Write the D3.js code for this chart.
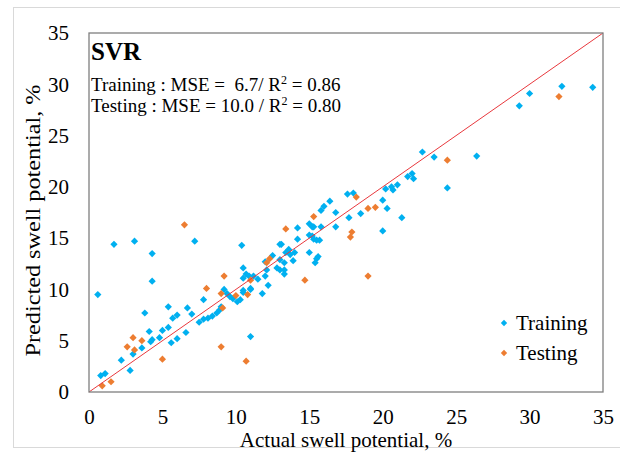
<!DOCTYPE html>
<html>
<head>
<meta charset="utf-8">
<script src="https://cdn.jsdelivr.net/npm/d3@7"></script>
<style>
    body { margin: 0; background: #fff; }
    text { font-family: "Liberation Serif", "Times New Roman", serif; fill: #000; }
</style>
</head>
<body>
<div id="chart"></div>
<script>
(function () {

    // actual swell potential, predicted swell potential (%)
    const TRAINING = [
        [1.7, 14.4], [3.1, 14.7], [4.3, 13.5], [4.3, 10.8], [0.6, 9.5], [7.2, 14.7], [10.4, 14.3],
        [3.8, 7.7], [5.4, 8.3], [6.7, 8.2], [5.7, 7.2], [6.0, 7.5], [7.0, 7.6],
        [4.1, 5.9], [5.0, 6.0], [5.4, 6.3], [4.8, 5.3], [4.2, 4.9], [4.3, 5.1], [3.6, 4.3],
        [5.6, 4.8], [6.0, 5.2], [6.6, 5.8], [3.0, 3.7], [2.2, 3.1], [2.8, 2.1], [0.8, 1.6], [1.1, 1.8],
        [7.8, 9.0], [7.5, 6.8], [7.8, 7.1], [8.1, 7.2], [8.4, 7.4], [8.7, 7.7], [8.9, 8.0], [9.0, 8.3],
        [9.2, 10.0], [9.4, 9.6], [9.6, 9.3], [9.8, 9.1], [10.1, 8.8], [10.3, 9.0], [10.5, 9.7],
        [10.5, 9.9], [11.0, 10.0], [11.0, 10.1], [10.5, 12.1], [10.7, 11.5], [10.5, 11.1], [10.9, 11.3],
        [11.2, 11.3], [11.5, 11.0], [11.8, 9.6], [12.0, 11.3], [12.2, 10.4], [12.0, 12.7], [12.1, 11.9],
        [12.5, 13.3], [13.0, 12.9], [12.8, 12.1], [13.0, 11.9], [13.0, 14.4], [13.1, 14.4], [13.3, 11.9],
        [13.3, 11.5], [13.4, 13.6], [13.6, 13.9], [13.7, 13.4], [14.0, 13.6], [13.9, 12.8], [13.3, 12.6],
        [14.2, 16.0], [14.2, 14.9], [15.0, 16.4], [15.2, 16.1], [15.0, 15.3], [15.2, 15.2], [15.3, 14.9],
        [15.5, 14.8], [15.7, 14.8], [15.0, 13.6], [15.5, 13.0], [15.6, 13.2], [15.4, 12.6],
        [15.8, 17.7], [16.0, 18.1], [16.4, 18.6], [16.8, 17.5], [16.8, 16.1], [17.7, 17.0], [15.3, 16.1],
        [15.8, 16.1], [17.6, 19.3], [18.0, 19.4], [18.5, 17.4], [20.0, 18.7], [20.3, 17.9], [20.0, 15.7],
        [20.2, 19.8], [20.6, 20.0], [20.7, 19.7], [21.0, 20.2], [21.3, 17.0], [21.7, 21.0], [22.0, 21.3],
        [22.1, 20.8], [22.7, 23.4], [23.5, 22.9], [26.4, 23.0], [24.4, 19.9],
        [29.3, 27.9], [30.0, 29.1], [32.2, 29.8], [34.3, 29.7], [11.0, 5.4]
    ]

    const TESTING = [
        [0.9, 0.6], [1.5, 1.0], [3.0, 5.3], [2.6, 4.4], [3.1, 4.1], [3.6, 5.0], [5.0, 3.2],
        [6.5, 16.3], [8.0, 10.1], [9.2, 11.3], [9.0, 9.6], [9.1, 8.2], [9.0, 4.4], [10.7, 3.0],
        [10.0, 9.4], [10.8, 9.5], [11.0, 10.9], [12.1, 12.6], [12.3, 13.0], [13.4, 15.9], [15.3, 17.1],
        [14.7, 10.9], [17.9, 15.6], [17.8, 15.1], [18.2, 19.0], [19.0, 17.9], [19.5, 18.0], [19.0, 11.3],
        [24.4, 22.6], [32.0, 28.8]
    ]

    const TICKS = [0, 5, 10, 15, 20, 25, 30, 35]
    const SERIES = ["Training", "Testing"]
    const COLORS = ["#00b0f0", "#ed7d31"]

    const width = 620, height = 452
    const plot = { left: 89, right: 603, top: 33, bottom: 392 }

    const svg = d3.select("#chart")
        .append("svg")
        .attr("width", width)
        .attr("height", height)

    // faint frame around the whole figure
    svg.append("rect")
        .attr("x", 13.5).attr("y", 7.5)
        .attr("width", 640).attr("height", 440)
        .attr("fill", "none")
        .attr("stroke", "#d9d9d9")

    const xScale = d3.scaleLinear().domain([0, 35]).range([plot.left, plot.right])
    const yScale = d3.scaleLinear().domain([0, 35]).range([plot.bottom, plot.top])

    svg.append("g")
        .attr("transform", `translate(0,${plot.bottom})`)
        .call(d3.axisBottom(xScale).tickValues(TICKS).tickSize(0).tickPadding(17))
        .call(g => g.select(".domain").remove())
        .selectAll("text")
        .attr("font-size", 21)
        .attr("font-family", "Liberation Serif")

    svg.append("g")
        .attr("transform", `translate(${plot.left},0)`)
        .call(d3.axisLeft(yScale).tickValues(TICKS).tickSize(0).tickPadding(20))
        .call(g => g.select(".domain").remove())
        .selectAll("text")
        .attr("font-size", 21)
        .attr("font-family", "Liberation Serif")

    const diamond = d3.symbol(d3.symbolSquare, 26)

    SERIES.forEach((name, i) => {
        const data = i === 0 ? TRAINING : TESTING
        svg.append("g")
            .selectAll("path")
            .data(data)
            .enter()
            .append("path")
            .attr("d", diamond)
            .attr("fill", COLORS[i])
            .attr("transform", d => `translate(${xScale(d[0])},${yScale(d[1])}) rotate(45)`)
    })

    // 1:1 line
    svg.append("line")
        .attr("x1", xScale(0)).attr("y1", yScale(0))
        .attr("x2", xScale(35)).attr("y2", yScale(35))
        .attr("stroke", "#e8383d")
        .attr("stroke-width", 1)

    svg.append("rect")
        .attr("x", plot.left).attr("y", plot.top)
        .attr("width", plot.right - plot.left).attr("height", plot.bottom - plot.top)
        .attr("fill", "none")
        .attr("stroke", "#7f7f7f")
        .attr("stroke-width", 1.3)

    svg.append("text")
        .attr("x", 91).attr("y", 60)
        .attr("font-size", 25)
        .attr("font-weight", "bold")
        .text("SVR")

    const stats = [
        ["Training : MSE =  6.7/ R", "2", " = 0.86"],
        ["Testing : MSE = 10.0 / R", "2", " = 0.80"]
    ]
    stats.forEach((s, i) => {
        const t = svg.append("text")
            .attr("x", 91).attr("y", 91 + i * 21)
            .attr("font-size", 19)
            .style("white-space", "pre")
        t.append("tspan").text(s[0])
        t.append("tspan").attr("font-size", 12).attr("dy", -7).text(s[1])
        t.append("tspan").attr("dy", 7).text(s[2])
    })

    const legend = svg.append("g")
    SERIES.forEach((name, i) => {
        legend.append("path")
            .attr("d", d3.symbol(d3.symbolSquare, 20))
            .attr("fill", COLORS[i])
            .attr("transform", `translate(504,${323 + i * 30}) rotate(45)`)
        legend.append("text")
            .attr("x", 516).attr("y", 330 + i * 30)
            .attr("font-size", 21)
            .text(name)
    })

    svg.append("text")
        .attr("x", (plot.left + plot.right) / 2).attr("y", 447)
        .attr("text-anchor", "middle")
        .attr("font-size", 21)
        .text("Actual swell potential, %")

    svg.append("text")
        .attr("transform", `translate(40,${(plot.top + plot.bottom) / 2 + 8}) rotate(-90)`)
        .attr("text-anchor", "middle")
        .attr("font-size", 21)
        .attr("textLength", 272)
        .attr("lengthAdjust", "spacingAndGlyphs")
        .text("Predicted swell potential, %")

})()
</script>
</body>
</html>
